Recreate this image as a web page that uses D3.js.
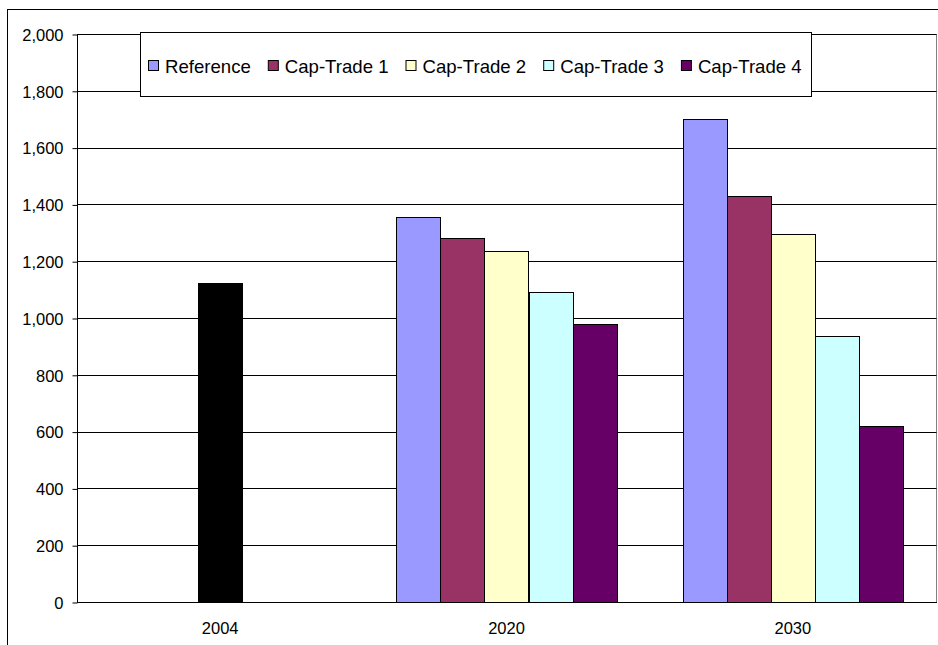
<!DOCTYPE html>
<html>
<head>
<meta charset="utf-8">
<script src="https://cdn.jsdelivr.net/npm/d3@7"></script>
<style>
  html, body { margin: 0; padding: 0; background: #fff; }
  svg { display: block; font-family: Arial, "Liberation Sans", sans-serif; }
</style>
</head>
<body>
<svg id="chart" width="938" height="645"></svg>
<script>
// ---- data ----
const categories = ["2004", "2020", "2030"];
const seriesNames = ["Reference", "Cap-Trade 1", "Cap-Trade 2", "Cap-Trade 3", "Cap-Trade 4"];
const seriesColors = ["#9999FF", "#993366", "#FFFFCC", "#CCFFFF", "#660066"];
// values for 2020 and 2030 (scenarios)
const reference  = [null, 1355, 1700];
const capTrade1  = [null, 1280, 1428];
const capTrade2  = [null, 1237, 1296];
const capTrade3  = [null, 1090, 935];
const capTrade4  = [null, 978, 621];
// historical base year value
const base2004 = [1125, null, null];
const yTicks = [0, 200, 400, 600, 800, 1000, 1200, 1400, 1600, 1800, 2000];

const seriesValues = [reference, capTrade1, capTrade2, capTrade3, capTrade4];

const svg = d3.select("#chart");

// outer chart border
svg.append("rect").attr("x", 7.5).attr("y", 9.5).attr("width", 1000).attr("height", 700)
  .attr("fill", "#fff").attr("stroke", "#000").attr("stroke-width", 1);

const plot = { left: 77, right: 936, top: 34, bottom: 602 };

const x = d3.scaleBand().domain(categories).range([plot.left, plot.right]).padding(0);
const y = d3.scaleLinear().domain([0, 2000]).range([plot.bottom, plot.top]);
const barW = x.bandwidth() / 6.5; // Excel gap width 150%
const inner = d3.scaleBand().domain(seriesNames)
  .range([0, barW * 5]).padding(0);

// plot area border (gray top/right)
svg.append("rect").attr("x", plot.left + 0.5).attr("y", plot.top + 0.5)
  .attr("width", plot.right - plot.left).attr("height", plot.bottom - plot.top)
  .attr("fill", "none").attr("stroke", "#808080");

// gridlines
svg.append("g").selectAll("line").data(yTicks.filter(t => t > 0)).join("line")
  .attr("x1", plot.left).attr("x2", plot.right + 0.5)
  .attr("y1", d => Math.round(y(d)) + 0.5).attr("y2", d => Math.round(y(d)) + 0.5)
  .attr("stroke", "#000").attr("stroke-width", 1);

// bars: scenarios
const bars = svg.append("g");
seriesNames.forEach((name, si) => {
  categories.forEach((cat, ci) => {
    const v = seriesValues[si][ci];
    if (v == null) return;
    const x0 = x(cat) + (x.bandwidth() - barW * 5) / 2 + inner(name);
    bars.append("rect")
      .attr("x", Math.round(x0) + 0.5)
      .attr("y", Math.round(y(v)) + 0.5)
      .attr("width", Math.round(inner.bandwidth()))
      .attr("height", Math.round(y(0)) - Math.round(y(v)))
      .attr("fill", seriesColors[si])
      .attr("stroke", "#000").attr("stroke-width", 1);
  });
});
// base year bar
categories.forEach((cat, ci) => {
  const v = base2004[ci];
  if (v == null) return;
  const x0 = x(cat) + (x.bandwidth() - barW) / 2;
  bars.append("rect")
    .attr("x", Math.round(x0) + 0.5)
    .attr("y", Math.round(y(v)) + 0.5)
    .attr("width", Math.round(barW))
    .attr("height", Math.round(y(0)) - Math.round(y(v)))
    .attr("fill", "#000").attr("stroke", "#000");
});

// y axis
const yAxis = d3.axisLeft(y).tickValues(yTicks).tickFormat(d3.format(",")).tickSize(5).tickPadding(9);
const ya = svg.append("g").attr("transform", `translate(${plot.left + 0.5},0.5)`).call(yAxis);
ya.select(".domain").attr("stroke", "#000").attr("d", `M0,${plot.top}V${plot.bottom}`);
ya.selectAll(".tick line").attr("stroke", "#000");
ya.selectAll(".tick text").attr("font-size", "16.5px").attr("font-family", "Arial, 'Liberation Sans', sans-serif")
  .attr("fill", "#000").attr("dy", "0.35em");

// x axis
const xAxis = d3.axisBottom(x).tickSize(0).tickPadding(20);
const xa = svg.append("g").attr("transform", `translate(0,${plot.bottom + 0.5})`).call(xAxis);
xa.select(".domain").attr("stroke", "#000").attr("d", `M${plot.left},0H${plot.right + 1}`);
xa.selectAll(".tick text").attr("font-size", "16.5px").attr("font-family", "Arial, 'Liberation Sans', sans-serif")
  .attr("fill", "#000").attr("dy", "0.71em");

// legend
const lg = svg.append("g");
lg.append("rect").attr("x", 140.5).attr("y", 32.5).attr("width", 671).attr("height", 64)
  .attr("fill", "#fff").attr("stroke", "#000");
let lx = 148;
const ly = 66;
seriesNames.forEach((name, i) => {
  lg.append("rect").attr("x", lx + 0.5).attr("y", ly - 5.5).attr("width", 10).attr("height", 10)
    .attr("fill", seriesColors[i]).attr("stroke", "#000");
  const t = lg.append("text").attr("x", lx + 17).attr("y", ly).attr("dy", "0.35em")
    .attr("font-size", "18.6px").attr("fill", "#000").text(name);
  lx = lx + 17 + t.node().getComputedTextLength() + 17;
});
</script>
</body>
</html>
